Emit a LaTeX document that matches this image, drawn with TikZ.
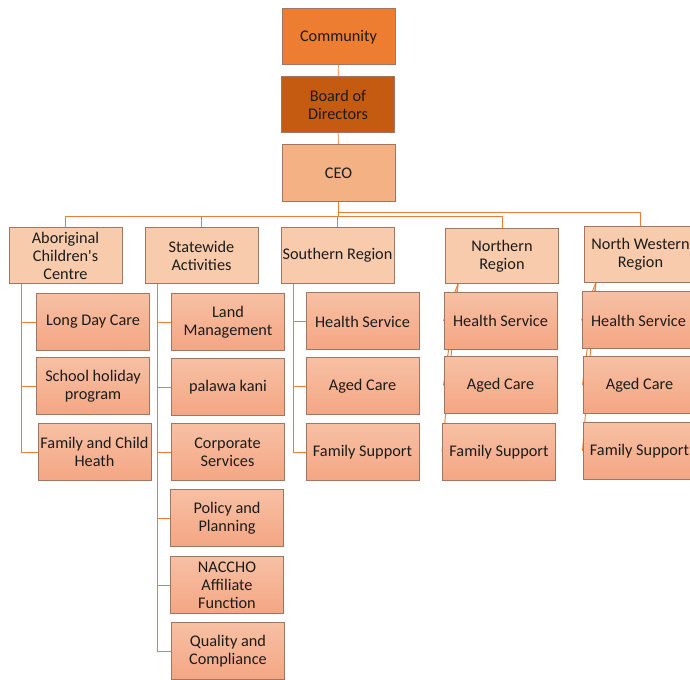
\documentclass[tikz,border=0pt]{standalone}
\usepackage{fontspec}
\setmainfont{Carlito}
\usepackage{xcolor}
\usetikzlibrary{positioning,calc,backgrounds}

\definecolor{orgA}{RGB}{237,125,49}
\definecolor{orgB}{RGB}{197,90,17}
\definecolor{orgC}{RGB}{244,177,131}
\definecolor{orgD}{RGB}{248,203,173}
\definecolor{subTop}{RGB}{247,192,164}
\definecolor{subBot}{RGB}{244,166,131}
\definecolor{boxline}{RGB}{160,118,98}
\definecolor{inkgrey}{RGB}{28,28,28}

\tikzset{
  basebox/.style={draw=boxline, line width=0.75pt, align=center, inner sep=1pt,
    minimum width=84.75pt, text=inkgrey},
  topbox/.style={basebox, fill=orgA, minimum height=42pt},
  boardbox/.style={basebox, fill=orgB, minimum height=42pt},
  ceobox/.style={basebox, fill=orgC, minimum height=42.75pt},
  unitbox/.style={basebox, fill=orgD, minimum height=41.5pt},
  subbox/.style={basebox, top color=subTop, bottom color=subBot, minimum height=42.75pt},
  link/.style={draw=orgA, line width=0.7pt}
}

\begin{document}
\begin{tikzpicture}[x=0.75pt, y=-0.75pt, font=\fontsize{12.2}{13.5}\selectfont]
        \clip (0,0) rectangle (690,680);

        % Top of the chart
        \node[topbox] (community) at (338.5,37) {Community};
        \node[boardbox] (board) at (338,105) {Board of\\Directors};
        \node[ceobox] (ceo) at (338.5,173.5) {CEO};

        % Units under the CEO
        \node[unitbox] (acc) at (65.5,255.5) {Aboriginal\\Children\textquotesingle s\\Centre};
        \node[unitbox] (stw) at (201.5,255.5) {Statewide\\Activities};
        \node[unitbox] (sth) at (337.5,255.5) {Southern Region};
        \node[unitbox] (nth) at (502,256) {Northern\\Region};
        \node[unitbox] (nwr) at (640.5,254.5) {North Western\\Region};

        % Aboriginal Children's Centre
        \node[subbox] (ldc) at (93,322) {Long Day Care};
        \node[subbox] (shp) at (93,386.5) {School holiday\\program};
        \node[subbox] (fch) at (94.5,452) {Family and Child\\Heath};

        % Statewide Activities
        \node[subbox] (land) at (228,322) {Land\\Management};
        \node[subbox] (kani) at (228,387) {palawa kani};
        \node[subbox] (corp) at (227.5,452.5) {Corporate\\Services};
        \node[subbox] (pol) at (227,518.5) {Policy and\\Planning};
        \node[subbox] (nac) at (227,585.5) {NACCHO\\Affiliate\\Function};
        \node[subbox] (qual) at (228,651.5) {Quality and\\Compliance};

        % Southern Region
        \node[subbox] (shs) at (362.5,321.5) {Health Service};
        \node[subbox] (sac) at (362.5,386.5) {Aged Care};
        \node[subbox] (sfs) at (362.5,452.5) {Family Support};

        % Northern Region
        \node[subbox] (nhs) at (500.5,321) {Health Service};
        \node[subbox] (nac2) at (500.5,385.5) {Aged Care};
        \node[subbox] (nfs) at (499,452) {Family Support};

        % North Western Region
        \node[subbox] (whs) at (638.5,320.5) {Health Service};
        \node[subbox] (wac) at (639.5,385) {Aged Care};
        \node[subbox] (wfs) at (639.5,451) {Family Support};

        \begin{pgfonlayer}{background}
        % Top links
        \draw[link] (community) -- (board);
        \draw[link] (board) -- (ceo);

        % Bus lines
        \coordinate (bus) at (339,216);
        \draw[link] (ceo.south) |- (acc.north |- bus) -- (acc.north);
        \draw[link] (stw.north) -- (stw.north |- bus);
        \draw[link] (sth.north) -- (sth.north |- bus);
        \draw[link] (ceo.south) |- (nth.north |- bus) -- (nth.north);
        \draw[link] (ceo.south) |- ($(nwr.north)+(0,-14)$) -- (nwr.north);

        % Trunks
        \coordinate (accT) at (21,283);
        \draw[link] (accT) |- (ldc.west);
        \draw[link] (accT) |- (shp.west);
        \draw[link] (accT) |- (fch.west);

        \coordinate (stwT) at (157,283);
        \draw[link] (stwT) |- (land.west);
        \draw[link] (stwT) |- (kani.west);
        \draw[link] (stwT) |- (corp.west);
        \draw[link] (stwT) |- (pol.west);
        \draw[link] (stwT) |- (nac.west);
        \draw[link] (stwT) |- (qual.west);

        \coordinate (sthT) at (293,283);
        \draw[link] (sthT) |- (shs.west);
        \draw[link] (sthT) |- (sac.west);
        \draw[link] (sthT) |- (sfs.west);

        \coordinate (nthT) at (458,284);
        \draw[link] (nthT) -- (nhs.west);
        \draw[link] (nthT) -- (nac2.west);
        \draw[link] (nthT) -- (nfs.west);

        \coordinate (nwrT) at (596,282);
        \draw[link] (nwrT) -- (whs.west);
        \draw[link] (nwrT) -- (wac.west);
        \draw[link] (nwrT) -- (wfs.west);
        \end{pgfonlayer}
    \end{tikzpicture}
\end{document}
